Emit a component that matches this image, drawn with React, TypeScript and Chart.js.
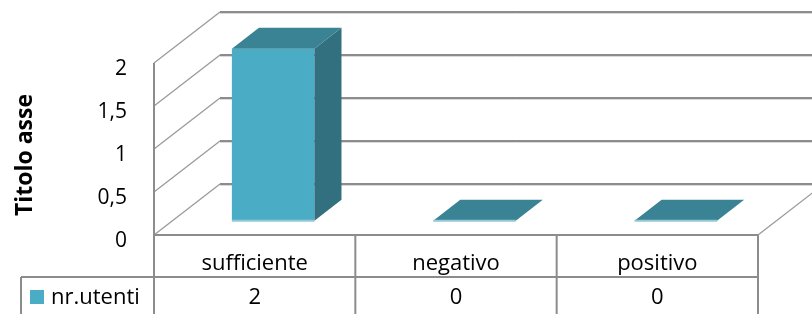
import React, { useEffect, useRef } from "react";
import { Chart, registerables } from "chart.js";

Chart.register(...registerables);

const categories = ["sufficiente", "negativo", "positivo"];
const seriesName = "nr.utenti";
const values = [2, 0, 0];
const yTicks = [0, 0.5, 1, 1.5, 2];
const yTickLabels = ["0", "0,5", "1", "1,5", "2"];
const axisTitle = "Titolo asse";

const FRONT = "#4BACC6";
const TOP = "#3A8394";
const SIDE = "#326F7F";
const EDGE = "#93C8D6";
const GRID = "#8C8C8C";
const FONT = "'Open Sans', sans-serif";

const DX = 66;
const DY = -51;
const F0 = 0.28;
const DEPTH = 0.41;

const threeD = {
  id: "threeD",
  beforeDatasetsDraw(chart: any) {
    const { ctx, chartArea, scales } = chart;
    const { left, right, bottom } = chartArea;
    const y = scales.y;
    ctx.save();
    // back wall gridlines
    yTicks.forEach((v) => {
      const py = Math.round(y.getPixelForValue(v) + DY);
      ctx.strokeStyle = GRID;
      ctx.lineWidth = 2;
      ctx.beginPath();
      ctx.moveTo(left + DX, py);
      ctx.lineTo(right + DX + 20, py);
      ctx.stroke();
      ctx.strokeStyle = "#D9D9D9";
      ctx.lineWidth = 1;
      ctx.beginPath();
      ctx.moveTo(left + DX, py + 1.5);
      ctx.lineTo(right + DX + 20, py + 1.5);
      ctx.stroke();
    });
    // side wall diagonals
    ctx.strokeStyle = "#9A9A9A";
    ctx.lineWidth = 1.3;
    yTicks.forEach((v) => {
      const py = y.getPixelForValue(v);
      ctx.beginPath();
      ctx.moveTo(left, py);
      ctx.lineTo(left + DX, py + DY);
      ctx.stroke();
    });
    // floor right diagonal
    ctx.beginPath();
    ctx.moveTo(right, bottom);
    ctx.lineTo(right + DX, bottom + DY);
    ctx.stroke();
    // front vertical axis
    ctx.strokeStyle = GRID;
    ctx.lineWidth = 2;
    ctx.beginPath();
    ctx.moveTo(left, y.getPixelForValue(yTicks[yTicks.length - 1]));
    ctx.lineTo(left, bottom);
    ctx.stroke();
    ctx.restore();
  },
  afterDatasetsDraw(chart: any) {
    const { ctx } = chart;
    const meta = chart.getDatasetMeta(0);
    const fx = F0 * DX;
    const fy = F0 * DY;
    const bx = DEPTH * DX;
    const by = DEPTH * DY;
    ctx.save();
    meta.data.forEach((el: any) => {
      const x0 = el.x - el.width / 2 + fx;
      const x1 = el.x + el.width / 2 + fx;
      const yt = el.y + fy;
      const yb = el.base + fy;
      if (yb - yt > 1) {
        ctx.fillStyle = FRONT;
        ctx.fillRect(x0, yt, x1 - x0, yb - yt);
        ctx.fillStyle = SIDE;
        ctx.beginPath();
        ctx.moveTo(x1, yt);
        ctx.lineTo(x1 + bx, yt + by);
        ctx.lineTo(x1 + bx, yb + by);
        ctx.lineTo(x1, yb);
        ctx.closePath();
        ctx.fill();
      }
      ctx.fillStyle = TOP;
      ctx.beginPath();
      ctx.moveTo(x0, yt);
      ctx.lineTo(x1, yt);
      ctx.lineTo(x1 + bx, yt + by);
      ctx.lineTo(x0 + bx, yt + by);
      ctx.closePath();
      ctx.fill();
      ctx.strokeStyle = EDGE;
      ctx.lineWidth = 2;
      ctx.beginPath();
      ctx.moveTo(x0, yb);
      ctx.lineTo(x1, yb);
      ctx.stroke();
    });
    ctx.restore();
  },
  afterDraw(chart: any) {
    const { ctx, chartArea, scales } = chart;
    const { left, right, bottom } = chartArea;
    const x = scales.x;
    const y = scales.y;
    ctx.save();
    ctx.fillStyle = "#000";
    // y tick labels
    ctx.font = `21px ${FONT}`;
    ctx.textAlign = "right";
    ctx.textBaseline = "middle";
    yTicks.forEach((v, i) => {
      ctx.fillText(yTickLabels[i], 127, y.getPixelForValue(v) + 6);
    });
    // axis title
    ctx.save();
    ctx.translate(25, 155);
    ctx.rotate(-Math.PI / 2);
    ctx.font = `bold 23px ${FONT}`;
    ctx.textAlign = "center";
    ctx.textBaseline = "middle";
    ctx.fillText(axisTitle, 0, 0);
    ctx.restore();
    // data table
    const rowMid = bottom + 42;
    const tableBottom = chart.height;
    const catW = x.getPixelForValue(1) - x.getPixelForValue(0);
    ctx.strokeStyle = GRID;
    ctx.lineWidth = 2;
    ctx.beginPath();
    ctx.moveTo(left, bottom);
    ctx.lineTo(right, bottom);
    ctx.moveTo(21, rowMid);
    ctx.lineTo(right, rowMid);
    ctx.moveTo(left, bottom);
    ctx.lineTo(left, tableBottom);
    ctx.moveTo(21, rowMid);
    ctx.lineTo(21, tableBottom);
    categories.forEach((_, i) => {
      const xr = x.getPixelForValue(i) + catW / 2;
      ctx.moveTo(xr, bottom);
      ctx.lineTo(xr, tableBottom);
    });
    ctx.stroke();
    ctx.font = `22px ${FONT}`;
    ctx.textAlign = "center";
    ctx.textBaseline = "alphabetic";
    categories.forEach((c, i) => {
      const cx = x.getPixelForValue(i);
      ctx.fillText(c, cx, 270);
      ctx.fillText(String(values[i]), cx, 304);
    });
    ctx.fillStyle = FRONT;
    ctx.fillRect(30, 290, 14, 14);
    ctx.fillStyle = "#000";
    ctx.textAlign = "left";
    ctx.fillText(seriesName, 51, 304);
    ctx.restore();
  },
};

export default function App() {
  const ref = useRef<HTMLCanvasElement>(null);
  useEffect(() => {
    if (!ref.current) return;
    const chart = new Chart(ref.current, {
      type: "bar",
      data: {
        labels: categories,
        datasets: [
          {
            label: seriesName,
            data: values,
            backgroundColor: "rgba(0,0,0,0)",
            borderWidth: 0,
            barPercentage: 0.41,
            categoryPercentage: 1,
          },
        ],
      },
      options: {
        responsive: false,
        devicePixelRatio: 1,
        animation: false,
        layout: { padding: { left: 154, right: 54, top: 63, bottom: 79 } },
        scales: {
          x: { type: "category", display: false },
          y: { type: "linear", display: false, min: 0, max: 2 },
        },
        plugins: { legend: { display: false }, tooltip: { enabled: false } },
      },
      plugins: [threeD],
    });
    return () => chart.destroy();
  }, []);
  return (
    <div style={{ position: "fixed", left: 0, top: 0, width: 812, height: 314, background: "#fff" }}>
      <canvas ref={ref} width={812} height={314} style={{ display: "block" }} />
    </div>
  );
}
